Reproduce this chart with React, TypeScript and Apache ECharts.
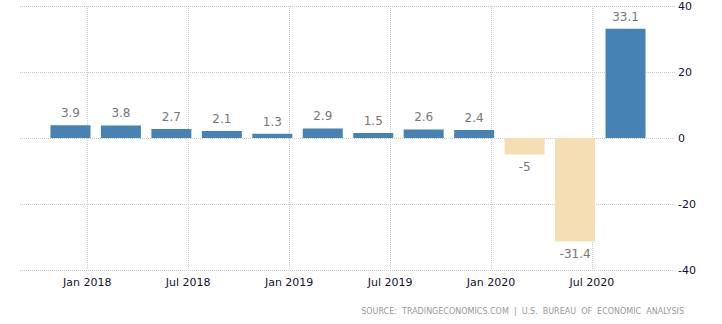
import React, { useEffect, useRef } from "react";
import * as echarts from "echarts";

// Quarter periods (plotted month) and GDP growth values
const periods = [
  "2017-12", "2018-03", "2018-06", "2018-09", "2018-12", "2019-03",
  "2019-06", "2019-09", "2019-12", "2020-03", "2020-06", "2020-09",
];
const values = [3.9, 3.8, 2.7, 2.1, 1.3, 2.9, 1.5, 2.6, 2.4, -5, -31.4, 33.1];

// X tick positions (months since Jan 2018) and their labels
const xTickMonths = [0, 6, 12, 18, 24, 30];
const xTickLabels = ["Jan 2018", "Jul 2018", "Jan 2019", "Jul 2019", "Jan 2020", "Jul 2020"];

const yTicks = [-40, -20, 0, 20, 40];

const sourceText = "SOURCE:  TRADINGECONOMICS.COM  |  U.S.  BUREAU  OF  ECONOMIC  ANALYSIS";

const BLUE = "#4682B4";
const BEIGE = "#F5DEB3";

function monthIndex(p: string): number {
  const [y, m] = p.split("-").map(Number);
  return (y - 2018) * 12 + (m - 1);
}

export default function App() {
  const ref = useRef<HTMLDivElement>(null);

  useEffect(() => {
    document.body.style.margin = "0";
    if (!ref.current) return;
    const chart = echarts.init(ref.current, undefined, { renderer: "svg" });
    const font = "'DejaVu Sans', Verdana, sans-serif";

    const data = periods.map((p, i) => {
      const v = values[i];
      return {
        value: [monthIndex(p), v],
        itemStyle: { color: v < 0 ? BEIGE : BLUE },
        label: { position: v < 0 ? "bottom" : "top" },
      };
    });

    chart.setOption({
      animation: false,
      grid: { left: 20, right: 46, top: 6, bottom: 54, containLabel: false },
      xAxis: {
        type: "value",
        min: -4,
        max: 35,
        axisLine: { show: false },
        axisTick: {
          show: true,
          length: 5,
          customValues: xTickMonths,
          lineStyle: { color: "#cccccc", type: "dotted" },
        },
        axisLabel: {
          customValues: xTickMonths,
          margin: 7,
          color: "#111133",
          fontFamily: font,
          fontSize: 11,
          formatter: (val: number) => {
            const idx = xTickMonths.indexOf(val);
            return idx >= 0 ? xTickLabels[idx] : "";
          },
        },
        splitLine: {
          show: true,
          lineStyle: { color: "#cccccc", type: "dotted", width: 1 },
        },
      },
      yAxis: {
        type: "value",
        position: "right",
        min: yTicks[0],
        max: yTicks[yTicks.length - 1],
        interval: 20,
        axisLine: { show: false },
        axisTick: { show: false },
        axisLabel: {
          margin: 2,
          color: "#111133",
          fontFamily: font,
          fontSize: 11,
        },
        splitLine: {
          show: true,
          lineStyle: { color: "#cccccc", type: "dotted", width: 1 },
        },
      },
      series: [
        {
          type: "bar",
          barWidth: 40,
          data,
          label: {
            show: true,
            distance: 6,
            color: "#777777",
            fontFamily: font,
            fontSize: 12,
            formatter: (p: any) => String(p.value[1]),
          },
        },
      ],
      graphic: [
        {
          type: "text",
          right: 38,
          top: 307,
          style: {
            text: sourceText,
            fill: "#999999",
            font: `8px ${font}`,
          },
        },
      ],
    });

    return () => chart.dispose();
  }, []);

  return <div ref={ref} style={{ width: 722, height: 324 }} />;
}
